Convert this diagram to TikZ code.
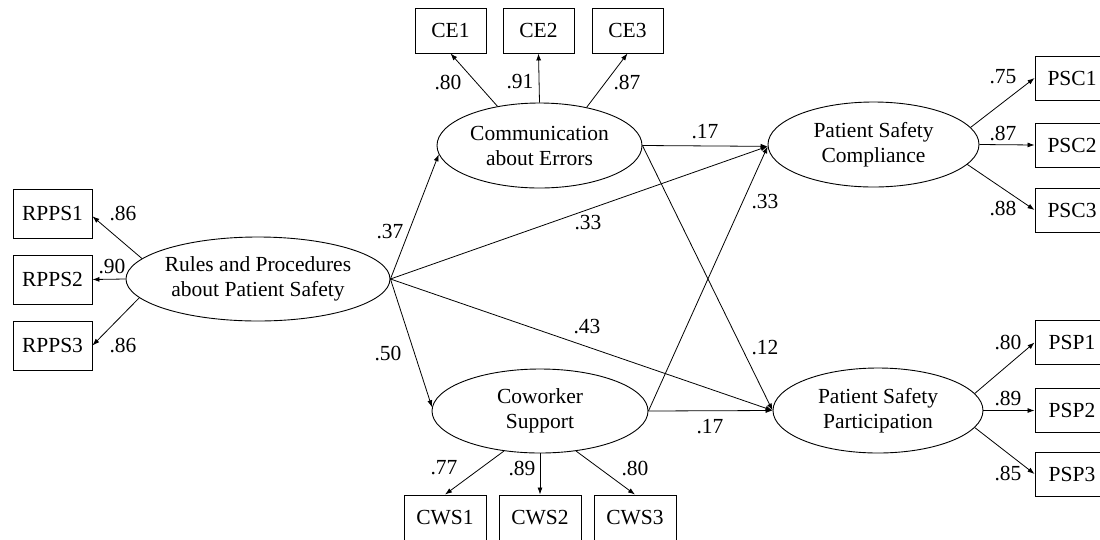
\documentclass[tikz,border=0pt]{standalone}
\usepackage{fontspec}
\setmainfont{Liberation Serif}
\usetikzlibrary{shapes.geometric,arrows.meta}
\begin{document}
\begin{tikzpicture}[x=1pt,y=-1pt,
  every node/.style={font=\fontsize{21.5}{25}\selectfont, inner sep=0pt},
  latent/.style={draw, ellipse, line width=0.9pt, align=center},
  obs/.style={draw, rectangle, line width=0.9pt},
  lbl/.style={},
  arr/.style={line width=0.8pt, -{Latex[length=7pt,width=5pt]}}
]
\useasboundingbox (0,0) rectangle (1100,539);

% latent variables
\node[latent, minimum width=264pt, minimum height=84pt] (RPPS) at (258,279) {Rules and Procedures\\about Patient Safety};
\node[latent, minimum width=205pt, minimum height=85pt] (CE) at (539.5,145.5) {Communication\\about Errors};
\node[latent, minimum width=216pt, minimum height=84pt] (CWS) at (540,411) {Coworker\\Support};
\node[latent, minimum width=211pt, minimum height=85pt] (PSC) at (873.5,144.5) {Patient Safety\\Compliance};
\node[latent, minimum width=210pt, minimum height=85pt] (PSP) at (878,410.5) {Patient Safety\\Participation};

% observed variables
\begin{scope}[every node/.append style={minimum width=79pt, minimum height=49pt}]
\node[obs] (RPPS1) at (52.5,213.5) {RPPS1};
\node[obs] (RPPS2) at (52.5,279.5) {RPPS2};
\node[obs] (RPPS3) at (52.5,345.5) {RPPS3};
\end{scope}
\begin{scope}[every node/.append style={minimum width=71pt, minimum height=45pt}]
\node[obs] (CE1) at (450.5,30.5) {CE1};
\node[obs] (CE2) at (538.5,30.5) {CE2};
\node[obs] (CE3) at (627.5,30.5) {CE3};
\end{scope}
\begin{scope}[every node/.append style={minimum width=82pt, minimum height=45pt}]
\node[obs] (CWS1) at (445,517.5) {CWS1};
\node[obs] (CWS2) at (540,517.5) {CWS2};
\node[obs] (CWS3) at (635,517.5) {CWS3};
\end{scope}
\begin{scope}[every node/.append style={minimum width=74pt, minimum height=44pt}]
\node[obs] (PSC1) at (1072,78) {PSC1};
\node[obs] (PSC2) at (1072,145) {PSC2};
\node[obs] (PSC3) at (1072,210) {PSC3};
\node[obs] (PSP1) at (1072,342.5) {PSP1};
\node[obs] (PSP2) at (1072,410.5) {PSP2};
\node[obs] (PSP3) at (1072,474) {PSP3};
\end{scope}

% measurement arrows
\draw[arr] (RPPS.170) -- (RPPS1.-4);
\draw[arr] (RPPS.west) -- (RPPS2.east);
\draw[arr] (RPPS.189) -- (RPPS3.east);
\draw[arr] (CE.137) -- (CE1.south);
\draw[arr] (CE.north) -- (CE2.south);
\draw[arr] (CE.39) -- (CE3.south);
\draw[arr] (CWS.228) -- (CWS1.north);
\draw[arr] (CWS.south) -- (CWS2.north);
\draw[arr] (CWS.-48) -- (CWS3.north);
\draw[arr] (PSC.10) -- (PSC1.west);
\draw[arr] (PSC.east) -- (PSC2.west);
\draw[arr] (PSC.-12) -- (PSC3.west);
\draw[arr] (PSP.10) -- (PSP1.west);
\draw[arr] (PSP.east) -- (PSP2.west);
\draw[arr] (PSP.-10) -- (PSP3.west);

% structural arrows
\draw[arr] (RPPS.east) -- (CE.185);
\draw[arr] (RPPS.east) -- (CWS.178);
\draw[arr] (RPPS.east) -- (PSC.181);
\draw[arr] (RPPS.east) -- (PSP.west);
\draw[arr] (CE.east) -- (PSC.181);
\draw[arr] (CE.east) -- (PSP.west);
\draw[arr] (CWS.east) -- (PSC.181);
\draw[arr] (CWS.east) -- (PSP.west);

% loading labels
\node[lbl] (l1) at (123,213) {.86};
\node[lbl] (l2) at (112,266) {.90};
\node[lbl] (l3) at (123,345) {.86};
\node[lbl] (l4) at (448,82) {.80};
\node[lbl] (l5) at (520,82) {.91};
\node[lbl] (l6) at (627,82) {.87};
\node[lbl] (l7) at (1003,77) {.75};
\node[lbl] (l8) at (1003,133) {.87};
\node[lbl] (l9) at (1003,208) {.88};
\node[lbl] (l10) at (1008,342) {.80};
\node[lbl] (l11) at (1008,398) {.89};
\node[lbl] (l12) at (1008,473) {.85};
\node[lbl] (l13) at (444,468) {.77};
\node[lbl] (l14) at (522,468) {.89};
\node[lbl] (l15) at (635,468) {.80};

% path labels
\node[lbl] (p1) at (390,232) {.37};
\node[lbl] (p2) at (388,353) {.50};
\node[lbl] (p3) at (588,223) {.33};
\node[lbl] (p4) at (587,327) {.43};
\node[lbl] (p5) at (705,132) {.17};
\node[lbl] (p6) at (765,202) {.33};
\node[lbl] (p7) at (765,348) {.12};
\node[lbl] (p8) at (710,427) {.17};
\end{tikzpicture}
\end{document}
